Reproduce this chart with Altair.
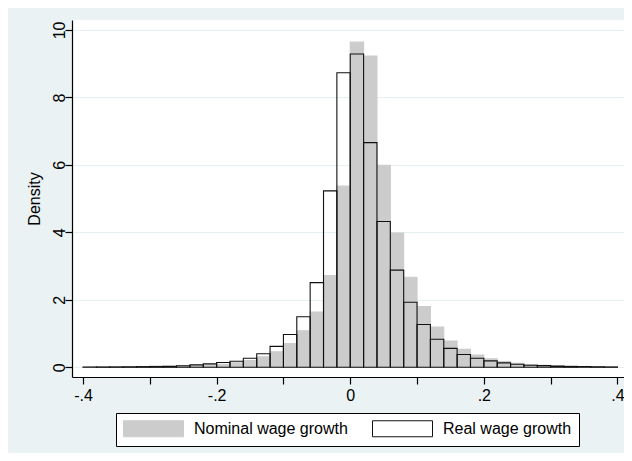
import altair as alt
import pandas as pd

# Histogram bins (width 0.02) from -0.40 to 0.40
bin_starts = [round(-0.40 + 0.02 * i, 2) for i in range(40)]
bin_ends = [round(b + 0.02, 2) for b in bin_starts]

nominal_density = [0.005, 0.006, 0.008, 0.01, 0.015, 0.02, 0.025, 0.035, 0.05, 0.07,
                   0.09, 0.13, 0.20, 0.31, 0.46, 0.70, 1.08, 1.64, 2.72, 5.37,
                   9.64, 9.23, 5.99, 3.98, 2.67, 1.80, 1.19, 0.78, 0.53, 0.36,
                   0.25, 0.17, 0.12, 0.08, 0.06, 0.04, 0.03, 0.02, 0.015, 0.01]

real_density = [0.01, 0.01, 0.012, 0.015, 0.02, 0.025, 0.03, 0.045, 0.07, 0.10,
                0.14, 0.18, 0.27, 0.40, 0.62, 0.97, 1.50, 2.51, 5.23, 8.73,
                9.29, 6.66, 4.32, 2.88, 1.93, 1.27, 0.83, 0.56, 0.38, 0.27,
                0.19, 0.13, 0.09, 0.06, 0.05, 0.035, 0.025, 0.02, 0.015, 0.01]

series_names = ["Nominal wage growth", "Real wage growth"]
x_ticks = [-0.4, -0.3, -0.2, -0.1, 0.0, 0.1, 0.2, 0.3, 0.4]
y_ticks = [0, 2, 4, 6, 8, 10]

rows = []
for s, dens in zip(series_names, [nominal_density, real_density]):
    for b0, b1, d in zip(bin_starts, bin_ends, dens):
        rows.append({"start": b0, "end": b1, "density": d, "series": s})
df = pd.DataFrame(rows)

FONT = "Liberation Sans"

x_label_expr = (
    "round(abs(datum.value)*10) % 2 == 1 ? '' : "
    "(abs(datum.value) < 0.001 ? '0' : "
    "((datum.value < 0 ? '-' : '') + '.' + round(abs(datum.value)*10)))"
)

chart = alt.Chart(df).mark_bar(strokeWidth=1.1).encode(
    x=alt.X("start:Q",
            scale=alt.Scale(domain=[-0.4165, 0.4098], nice=False, zero=False),
            axis=alt.Axis(values=x_ticks, labelExpr=x_label_expr, title=None,
                          grid=False, tickSize=7, labelPadding=3)),
    x2="end:Q",
    y=alt.Y("density:Q",
            scale=alt.Scale(domain=[-0.288, 10.296], nice=False, zero=False),
            axis=alt.Axis(values=y_ticks, title="Density", grid=True,
                          gridColor="#E6EFF1", gridWidth=1.2,
                          tickSize=7, labelAngle=270, labelAlign="center",
                          labelBaseline="middle", labelPadding=6,
                          titlePadding=9)),
    y2=alt.datum(0),
    fill=alt.Fill("series:N",
                  scale=alt.Scale(domain=series_names,
                                  range=["#CCCCCC", "transparent"]),
                  legend=alt.Legend(title=None)),
    stroke=alt.Stroke("series:N",
                      scale=alt.Scale(domain=series_names,
                                      range=["#CCCCCC", "#111111"]),
                      legend=alt.Legend(title=None)),
).properties(
    width=552,
    height=357,
    background="#EAF2F3",
    autosize=alt.AutoSizeParams(type="none"),
    padding={"left": 64, "top": 12, "right": 0, "bottom": 76},
).configure_view(
    fill="white",
    stroke=None,
).configure_axis(
    labelFont=FONT,
    titleFont=FONT,
    labelFontSize=16,
    titleFontSize=16,
    titleFontWeight="normal",
    labelColor="black",
    titleColor="black",
    domainColor="black",
    tickColor="black",
    domainWidth=1.2,
    tickWidth=1.2,
).configure_legend(
    orient="none",
    legendX=44,
    legendY=393,
    direction="horizontal",
    fillColor="white",
    strokeColor="black",
    padding=7,
    labelFont=FONT,
    labelFontSize=16,
    labelColor="black",
    labelLimit=400,
    symbolType="M-1,-1L6.5,-1L6.5,1L-1,1Z",
    symbolSize=256,
    symbolStrokeWidth=1,
    labelOffset=54,
    columnPadding=22,
)

chart.save("out.html", embed_options={"renderer": "svg", "actions": False})
